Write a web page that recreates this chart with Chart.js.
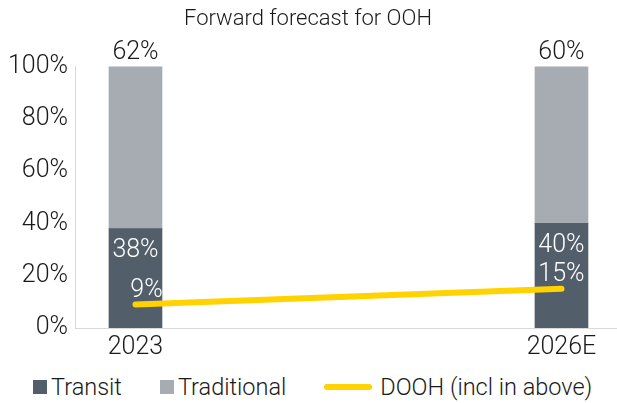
<!DOCTYPE html>
<html>
<head>
<meta charset="utf-8">
<title>Forward forecast for OOH</title>
<script src="https://cdn.jsdelivr.net/npm/chart.js@4.4.1/dist/chart.umd.min.js"></script>
<style>
  html, body { margin: 0; padding: 0; background: #ffffff; }
  #wrap { position: relative; width: 617px; height: 403px; font-family: Roboto, "Noto Sans", sans-serif; font-weight: 300; overflow: hidden; }
  #chart-box { position: absolute; left: 0; top: 0; width: 617px; height: 368px; }
  #legend { position: absolute; left: 33px; top: 371px; height: 32px; display: flex; align-items: center; gap: 38px;
            font-size: 23.5px; color: #1a1a1a; white-space: nowrap; }
  .item { display: flex; align-items: center; }
  .sw-box { width: 14px; height: 14px; margin-right: 4px; }
  .sw-line { width: 48px; height: 6px; border-radius: 3px; margin-right: 8px; }
</style>
</head>
<body>
<div id="wrap">
  <div id="chart-box"><canvas id="c" width="617" height="368"></canvas></div>
  <div id="legend"></div>
</div>
<script>
// Share of out-of-home spend, in percent
const categories = ['2023', '2026E'];
const transit = [38, 40];
const traditional = [62, 60];
const dooh = [9, 15];          // digital OOH, already included in the two segments
const yTicks = [0, 20, 40, 60, 80, 100];

const colors = {
  transit: '#535e6b',
  traditional: '#a7acb2',
  dooh: '#ffd200',
  text: '#1a1a1a',
  axis: '#d9d9d9'
};

const FONT = 'Roboto, "Noto Sans", sans-serif';

const toPoints = (vals) => vals.map((v, i) => ({ x: i, y: v }));

// Value labels: traditional above the stack, transit inside its segment, DOOH above the line
const valueLabels = {
  id: 'valueLabels',
  afterDatasetsDraw(chart) {
    const ctx = chart.ctx;
    ctx.save();
    ctx.font = '300 25px ' + FONT;
    ctx.textAlign = 'center';
    ctx.textBaseline = 'middle';
    chart.data.datasets.forEach((ds, di) => {
      const meta = chart.getDatasetMeta(di);
      meta.data.forEach((el, i) => {
        const v = ds.data[i].y;
        const txt = v + '%';
        if (ds.key === 'traditional') {
          ctx.fillStyle = colors.text;
          ctx.fillText(txt, el.x, el.y - 14);
        } else if (ds.key === 'transit') {
          ctx.fillStyle = '#ffffff';
          ctx.fillText(txt, el.x, el.y + 22);
        } else if (ds.key === 'dooh') {
          ctx.fillStyle = '#ffffff';
          ctx.fillText(txt, el.x + (i === 0 ? 11 : 0), el.y - 14);
        }
      });
    });
    ctx.restore();
  }
};

const chart = new Chart(document.getElementById('c'), {
  data: {
    datasets: [
      {
        type: 'line', key: 'dooh', label: 'DOOH (incl in above)',
        data: toPoints(dooh),
        borderColor: colors.dooh, backgroundColor: colors.dooh,
        borderWidth: 6, borderCapStyle: 'round', pointRadius: 0,
        stack: 'dooh', order: 0
      },
      {
        type: 'bar', key: 'transit', label: 'Transit',
        data: toPoints(transit),
        backgroundColor: colors.transit, borderWidth: 0,
        barThickness: 53, stack: 'ooh', order: 1
      },
      {
        type: 'bar', key: 'traditional', label: 'Traditional',
        data: toPoints(traditional),
        backgroundColor: colors.traditional, borderWidth: 0,
        barThickness: 53, stack: 'ooh', order: 1
      }
    ]
  },
  options: {
    responsive: false,
    animation: false,
    layout: { padding: { left: 0, right: 1, top: 0, bottom: 0 } },
    plugins: {
      legend: { display: false },
      tooltip: { enabled: false },
      title: {
        display: true,
        text: 'Forward forecast for OOH',
        color: colors.text,
        font: { family: FONT, size: 22, weight: 300 },
        padding: { top: 6, bottom: 34 }
      }
    },
    scales: {
      x: {
        type: 'linear',
        stacked: true,
        min: -0.142,
        max: 1.128,
        offset: false,
        grid: { display: false, drawTicks: false },
        border: { display: true, color: colors.axis, width: 1 },
        afterBuildTicks: (axis) => { axis.ticks = categories.map((_, i) => ({ value: i })); },
        afterFit: (axis) => { axis.height = 40; },
        ticks: {
          color: colors.text,
          font: { family: FONT, size: 25, weight: 300 },
          padding: 5,
          maxRotation: 0,
          autoSkip: false,
          callback: (v) => categories[v]
        }
      },
      y: {
        stacked: true,
        min: 0,
        max: 100,
        grid: { display: false, drawTicks: false },
        border: { display: true, color: colors.axis, width: 1 },
        afterBuildTicks: (axis) => { axis.ticks = yTicks.map(v => ({ value: v })); },
        afterFit: (axis) => { axis.width = 75; },
        ticks: {
          color: colors.text,
          font: { family: FONT, size: 25, weight: 300 },
          padding: 7,
          callback: (v) => v + '%'
        }
      }
    }
  },
  plugins: [valueLabels]
});

// Legend below the plot, in the order Transit, Traditional, DOOH
const legend = document.getElementById('legend');
['transit', 'traditional', 'dooh'].forEach(k => {
  const ds = chart.data.datasets.find(d => d.key === k);
  const item = document.createElement('div');
  item.className = 'item';
  const sw = document.createElement('span');
  sw.className = ds.type === 'line' ? 'sw-line' : 'sw-box';
  sw.style.background = ds.type === 'line' ? ds.borderColor : ds.backgroundColor;
  const t = document.createElement('span');
  t.textContent = ds.label;
  item.appendChild(sw);
  item.appendChild(t);
  legend.appendChild(item);
});
</script>
</body>
</html>
